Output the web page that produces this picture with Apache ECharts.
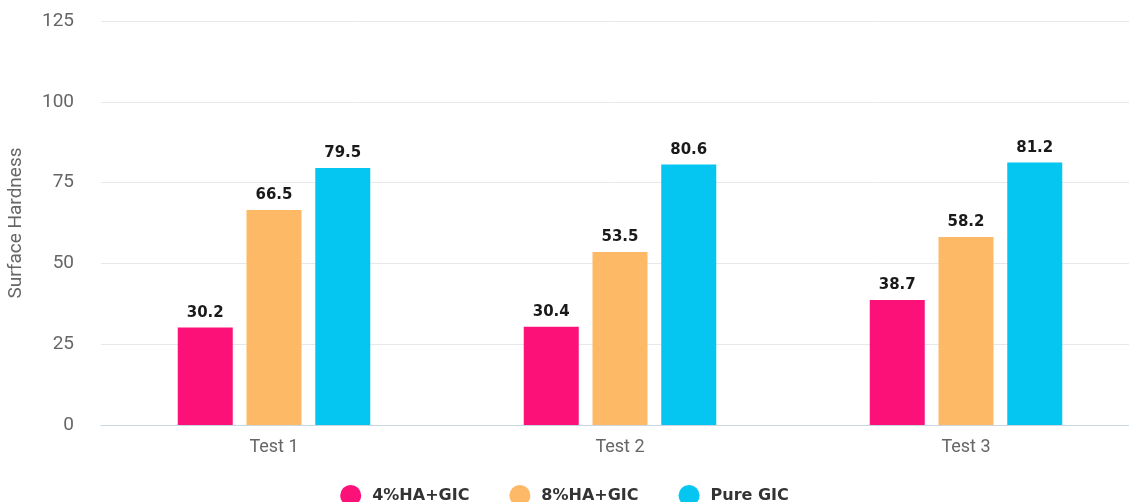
<!DOCTYPE html>
<html>
<head>
<meta charset="utf-8">
<script src="https://cdn.jsdelivr.net/npm/echarts@6/dist/echarts.min.js"></script>
<style>
html,body{margin:0;padding:0;background:#fff;}
#chart{width:1129px;height:502px;}
</style>
</head>
<body>
<div id="chart"></div>
<script>
const categories = ['Test 1', 'Test 2', 'Test 3'];
const seriesNames = ['4%HA+GIC', '8%HA+GIC', 'Pure GIC'];
const ha4 = [30.2, 30.4, 38.7];
const ha8 = [66.5, 53.5, 58.2];
const pure = [79.5, 80.6, 81.2];
const colors = ['#fc1179', '#fdb965', '#05c6f0'];
const yTicks = [0, 25, 50, 75, 100, 125];

const chart = echarts.init(document.getElementById('chart'));
const labelCfg = {
  show: true, position: 'top', distance: 7,
  fontFamily: 'DejaVu Sans', fontWeight: 'bold', fontSize: 15, color: '#1a1a1a',
  formatter: p => p.value.toFixed(1)
};
const dataSets = [ha4, ha8, pure];
chart.setOption({
  animation: false,
  backgroundColor: '#ffffff',
  grid: { left: 101, width: 1038, top: 21, bottom: 77, outerBoundsMode: 'none', containLabel: false },
  legend: {
    data: seriesNames,
    left: 'center', top: 480,
    icon: 'circle', itemWidth: 21, itemHeight: 21, itemGap: 40,
    textStyle: { fontFamily: 'DejaVu Sans', fontWeight: 'bold', fontSize: 16, color: '#333', padding: [0, 0, 0, 6] }
  },
  xAxis: {
    type: 'category', data: categories,
    axisLine: { lineStyle: { color: '#ccd6e0', width: 1 } },
    axisTick: { show: false },
    axisLabel: { fontFamily: 'Roboto', fontSize: 18, color: '#666', margin: 13 }
  },
  yAxis: {
    type: 'value', min: 0, max: 125, interval: 25,
    name: 'Surface Hardness', nameLocation: 'middle', nameGap: 75, nameRotate: 90,
    nameTextStyle: { fontFamily: 'Roboto', fontSize: 19, color: '#666' },
    axisLine: { show: false }, axisTick: { show: false },
    axisLabel: { fontFamily: 'Roboto', fontSize: 19, color: '#666', margin: 27 },
    splitLine: { lineStyle: { color: '#e6e9ec', width: 1 } }
  },
  series: seriesNames.map((n, i) => ({
    name: n, type: 'bar', data: dataSets[i],
    barWidth: 55, barGap: '25%',
    itemStyle: { color: colors[i] },
    label: labelCfg
  }))
});
</script>
</body>
</html>
